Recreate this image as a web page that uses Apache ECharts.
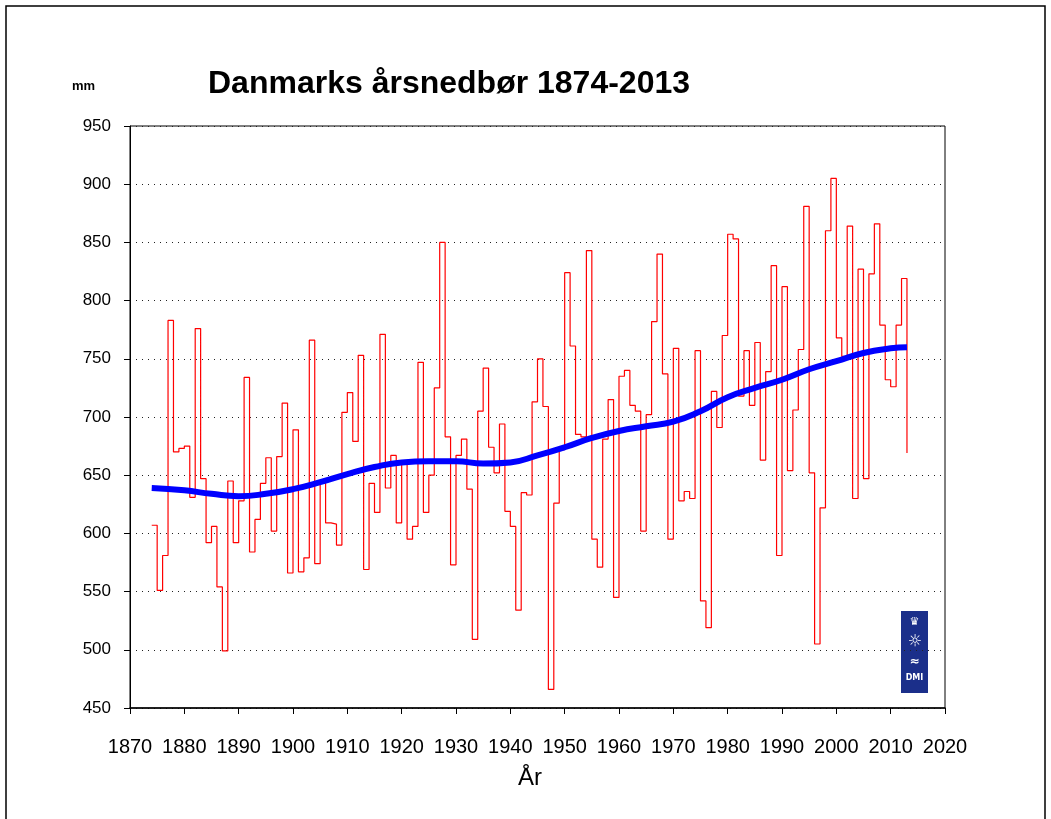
<!DOCTYPE html>
<html>
<head>
<meta charset="utf-8">
<title>Danmarks årsnedbør 1874-2013</title>
<script src="https://cdn.jsdelivr.net/npm/echarts@6/dist/echarts.min.js"></script>
<style>
    html, body { margin: 0; padding: 0; background: #fff; }
    #main { width: 1051px; height: 819px; }
</style>
</head>
<body>
<div id="main"></div>
<script>
// årstal
const years = [];
for (let y = 1874; y <= 2013; y++) years.push(y);

// årsnedbør i mm, 1874-2013
const rain = [
    607, 551, 581, 783, 670, 673, 675, 631, 776, 647,   // 1874-1883
    592, 606, 554, 499, 645, 592, 628, 734, 584, 612,   // 1884-1893
    643, 665, 602, 666, 712, 566, 689, 567, 579, 766,   // 1894-1903
    574, 643, 609, 608, 590, 704, 721, 679, 753, 569,   // 1904-1913
    643, 618, 771, 639, 667, 609, 660, 595, 606, 747,   // 1914-1923
    618, 650, 725, 850, 683, 573, 667, 681, 638, 509,   // 1924-1933
    705, 742, 674, 652, 694, 619, 606, 534, 635, 633,   // 1934-1943
    713, 750, 709, 466, 626, 672, 824, 761, 685, 683,   // 1944-1953
    843, 595, 571, 681, 715, 545, 735, 740, 710, 705,   // 1954-1963
    602, 702, 782, 840, 737, 595, 759, 628, 636, 630,   // 1964-1973
    757, 542, 519, 722, 691, 770, 857, 853, 718, 757,   // 1974-1983
    710, 764, 663, 739, 830, 581, 812, 654, 706, 758,   // 1984-1993
    881, 652, 505, 622, 860, 905, 768, 752, 864, 630,   // 1994-2003
    827, 647, 823, 866, 779, 732, 726, 779, 819, 669    // 2004-2013
];

// udglattet kurve (blå)
const smoothYears = [1874, 1880, 1885, 1890, 1895, 1900, 1905, 1910, 1915, 1920,
    1925, 1930, 1935, 1940, 1945, 1950, 1955, 1960, 1965, 1970,
    1975, 1980, 1985, 1990, 1995, 2000, 2005, 2010, 2013];
const smoothRain = [639, 637, 634, 632, 634, 638, 644, 651, 657, 661,
    662, 662, 660, 661, 667, 674, 682, 688, 692, 696,
    705, 717, 725, 732, 741, 748, 755, 759, 760];

const chart = echarts.init(document.getElementById('main'));

const labelFont = {
    color: '#000',
    fontFamily: 'Liberation Sans, Arial, sans-serif'
};

let option = {
    animation: false,
    backgroundColor: '#fff',
    title: {
        text: 'Danmarks årsnedbør 1874-2013',
        left: 203,
        top: 63,
        textStyle: {
            fontFamily: 'Liberation Sans, Arial, sans-serif',
            fontWeight: 'bold',
            fontSize: 32,
            color: '#000'
        }
    },
    grid: {
        left: 130,
        right: 106,
        top: 126,
        bottom: 111,
        show: true,
        borderColor: '#000',
        borderWidth: 1
    },
    xAxis: {
        type: 'value',
        min: 1870,
        max: 2020,
        interval: 10,
        axisLine: { lineStyle: { color: '#000', width: 1.5 } },
        axisTick: { inside: false, length: 6, lineStyle: { color: '#000' } },
        axisLabel: Object.assign({
            fontSize: 20,
            margin: 29,
            formatter: function (v) { return String(v); }
        }, labelFont),
        splitLine: { show: false }
    },
    yAxis: {
        type: 'value',
        min: 450,
        max: 950,
        interval: 50,
        axisLine: { show: true, lineStyle: { color: '#000', width: 1 } },
        axisTick: { show: true, length: 6, lineStyle: { color: '#000' } },
        axisLabel: Object.assign({ fontSize: 17, margin: 19 }, labelFont),
        splitLine: {
            show: true,
            lineStyle: { color: '#222', width: 1, type: [1, 5] }
        }
    },
    graphic: [
        // ramme om hele figuren
        {
            type: 'rect',
            shape: { x: 6, y: 6, width: 1039, height: 840 },
            style: { fill: 'none', stroke: '#000', lineWidth: 1.5 },
            silent: true
        },
        {
            type: 'text',
            left: 72,
            top: 80,
            style: {
                text: 'mm',
                font: 'bold 13px Liberation Sans, Arial, sans-serif',
                fill: '#000'
            }
        },
        // aksetitel
        {
            type: 'text',
            style: {
                text: 'År',
                x: 530,
                y: 778,
                align: 'center',
                verticalAlign: 'middle',
                font: '24px Liberation Sans, Arial, sans-serif',
                fill: '#000'
            }
        },
        // DMI logo
        {
            type: 'group',
            left: 901,
            top: 611,
            children: [
                {
                    type: 'rect',
                    shape: { x: 0, y: 0, width: 27, height: 82 },
                    style: { fill: '#1b2f8a' }
                },
                {
                    type: 'text',
                    style: { text: '♛', x: 13.5, y: 6, align: 'center', font: '11px DejaVu Sans', fill: '#fff' }
                },
                {
                    type: 'text',
                    style: { text: '☼', x: 14, y: 23, align: 'center', font: '16px DejaVu Sans', fill: '#fff' }
                },
                {
                    type: 'text',
                    style: { text: '≈', x: 13.5, y: 45, align: 'center', font: 'bold 12px DejaVu Sans', fill: '#fff' }
                },
                {
                    type: 'text',
                    style: { text: 'DMI', x: 13.5, y: 63, align: 'center', font: 'bold 8px DejaVu Sans', fill: '#fff' }
                }
            ]
        }
    ],
    series: [
        {
            name: 'Årsnedbør',
            type: 'line',
            step: 'end',
            showSymbol: false,
            data: years.map((y, i) => [y, rain[i]]),
            lineStyle: { color: '#ff0000', width: 1.2 },
            z: 2
        },
        {
            name: 'Udglattet',
            type: 'line',
            smooth: true,
            showSymbol: false,
            data: smoothYears.map((y, i) => [y, smoothRain[i]]),
            lineStyle: { color: '#0000ff', width: 6 },
            z: 3
        }
    ]
};

chart.setOption(option);
</script>
</body>
</html>
